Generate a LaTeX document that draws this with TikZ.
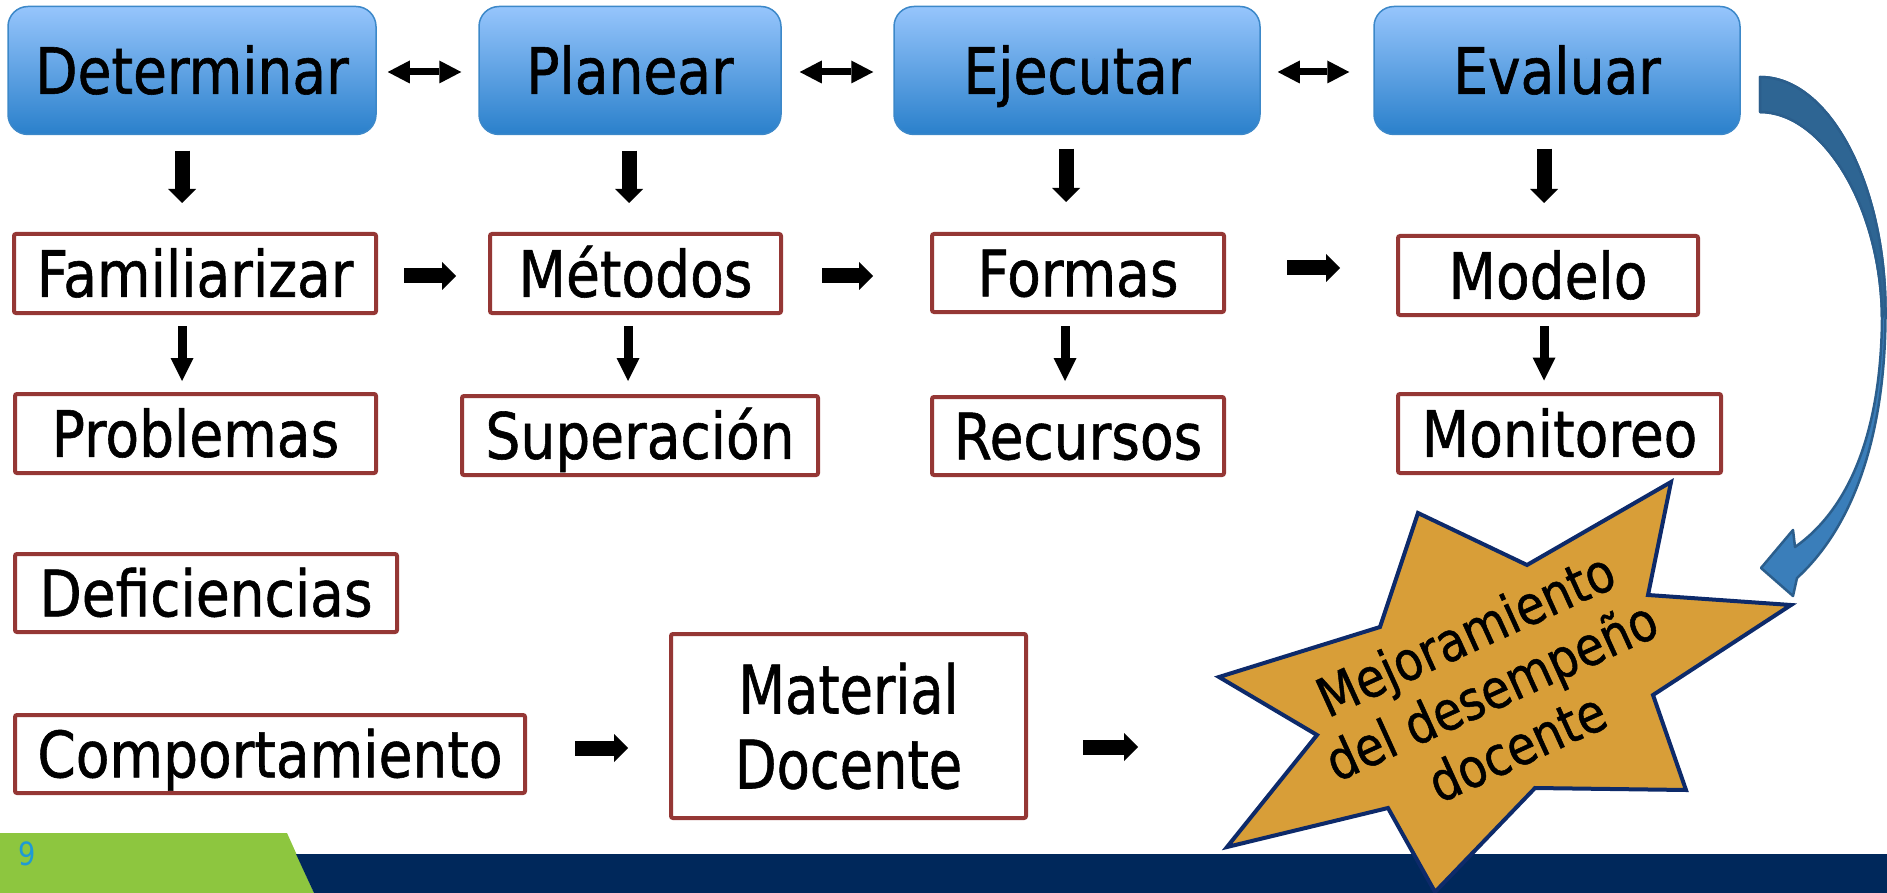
\documentclass[tikz,border=0pt]{standalone}
\usepackage{fontspec}
\setmainfont{DejaVu Sans}[FakeStretch=0.86,FakeBold=0.9]
\newfontfamily\narrowfont{DejaVu Sans}[FakeStretch=0.81,FakeBold=0.9]
\newfontfamily\numfont{DejaVu Sans}[FakeStretch=0.85]
\usetikzlibrary{arrows.meta}
\definecolor{bluetop}{HTML}{96C5FC}
\definecolor{bluebot}{HTML}{2A80CB}
\definecolor{blueborder}{HTML}{3C88C9}
\definecolor{redb}{HTML}{953735}
\definecolor{starfill}{HTML}{D89E38}
\definecolor{stardraw}{HTML}{0D2A6A}
\definecolor{navybar}{HTML}{00285B}
\definecolor{greenbar}{HTML}{8DC63F}
\definecolor{numblue}{HTML}{1E9AD6}
\definecolor{arrdark}{HTML}{2E6593}
\definecolor{arrlight}{HTML}{3A7EBA}
\definecolor{arredge}{HTML}{2B5E8C}
\begin{document}
\begin{tikzpicture}[x=1pt,y=-1pt,
  bluebox/.style={rectangle, rounded corners=20pt, draw=blueborder, line width=1.5pt,
    top color=bluetop, bottom color=bluebot, inner sep=0pt, minimum height=128pt,
    text height=46.7pt, text depth=0pt, font=\fontsize{64}{77}\selectfont},
  redbox/.style={rectangle, rounded corners=2pt, draw=redb, line width=4pt, fill=white,
    inner sep=0pt, minimum height=79pt,
    text height=46.7pt, text depth=0pt, font=\fontsize{64}{77}\selectfont},
  thk/.style={line width=15pt, -{Triangle[length=14pt,width=28pt,line width=0pt]}},
  thn/.style={line width=9pt, -{Triangle[length=23pt,width=23pt,line width=0pt]}},
  dbl/.style={line width=7pt, {Triangle[length=22pt,width=23pt,line width=0pt]}-{Triangle[length=22pt,width=23pt,line width=0pt]}}
]
\useasboundingbox (0,0) rectangle (1887,893);

% bottom bar
\fill[greenbar] (0,833) -- (287,833) -- (314,893) -- (0,893) -- cycle;
\fill[navybar] (296,854) -- (1887,854) -- (1887,893) -- (314,893) -- cycle;
\node[font=\numfont\fontsize{32}{32}\selectfont, text=numblue, inner sep=0pt] (num) at (27.5,854) {9};

% top row
\node[bluebox, minimum width=368pt] (det) at (192,70.5) {Determinar};
\node[bluebox, minimum width=302pt] (pla) at (630,70.5) {Planear};
\node[bluebox, minimum width=366pt] (eje) at (1077,70.5) {Ejecutar};
\node[bluebox, minimum width=366pt] (eva) at (1557,70.5) {Evaluar};

% second row
\node[redbox, minimum width=362pt] (fam) at (195,273.5) {Familiarizar};
\node[redbox, minimum width=291pt] (met) at (635.5,273.5) {Métodos};
\node[redbox, minimum width=292pt, minimum height=78pt] (for) at (1078,273) {Formas};
\node[redbox, minimum width=300pt] (mod) at (1548,275.5) {Modelo};

% third row
\node[redbox, minimum width=361pt] (pro) at (195.5,433.5) {Problemas};
\node[redbox, minimum width=356pt] (sup) at (640,435.5) {Superación};
\node[redbox, minimum width=292pt, minimum height=78pt] (rec) at (1078,436) {Recursos};
\node[redbox, minimum width=323pt] (mon) at (1559.5,433.5) {Monitoreo};

% lower left
\node[redbox, minimum width=382pt, minimum height=78pt] (def) at (206,593) {Deficiencias};
\node[redbox, minimum width=510pt, minimum height=78pt] (com) at (270,754) {Comportamiento};
\node[rectangle, rounded corners=2pt, draw=redb, line width=4pt, fill=white, inner sep=0pt,
  minimum width=355pt, minimum height=184pt, align=center,
  font=\narrowfont\fontsize{67}{75}\selectfont] (mat) at (848.5,726) {Material\\Docente};

% double arrows
\draw[dbl] ([xshift=11pt,yshift=-1.5pt]det.east) -- ([xshift=-17pt,yshift=-1.5pt]pla.west);
\draw[dbl] ([xshift=18pt,yshift=-1.5pt]pla.east) -- ([xshift=-20pt,yshift=-1.5pt]eje.west);
\draw[dbl] ([xshift=17pt,yshift=-1.5pt]eje.east) -- ([xshift=-24pt,yshift=-1.5pt]eva.west);

% thick down arrows
\draw[thk] ([xshift=-10pt,yshift=-15.5pt]det.south) -- ([xshift=-13pt,yshift=29pt]fam.north);
\draw[thk] ([xshift=-1pt,yshift=-15.5pt]pla.south) -- ([xshift=-6.5pt,yshift=29pt]met.north);
\draw[thk] ([xshift=-11pt,yshift=-13.5pt]eje.south) -- ([xshift=-12pt,yshift=30pt]for.north);
\draw[thk] ([xshift=-13pt,yshift=-13.5pt]eva.south) -- ([xshift=-4pt,yshift=31pt]mod.north);

% thin down arrows
\draw[thn] ([xshift=-13pt,yshift=-11pt]fam.south) -- ([xshift=-13.5pt,yshift=11pt]pro.north);
\draw[thn] ([xshift=-7.5pt,yshift=-11pt]met.south) -- ([xshift=-12pt,yshift=13pt]sup.north);
\draw[thn] ([xshift=-13pt,yshift=-12pt]for.south) -- ([xshift=-13pt,yshift=14pt]rec.north);
\draw[thn] ([xshift=-4pt,yshift=-9pt]mod.south) -- ([xshift=-15.5pt,yshift=11.5pt]mon.north);

% right arrows
\draw[thk] ([xshift=26pt,yshift=-2.5pt]fam.east) -- ([xshift=-32pt,yshift=-2.5pt]met.west);
\draw[thk] ([xshift=39pt,yshift=-2.5pt]met.east) -- ([xshift=-57pt,yshift=-3pt]for.west);
\draw[thk] ([xshift=61pt,yshift=5pt]for.east) -- ([xshift=-56pt,yshift=7.5pt]mod.west);
\draw[thk] ([xshift=48pt,yshift=6pt]com.east) -- ([xshift=-41pt,yshift=-22pt]mat.west);
\coordinate (starin) at (1138,747);
\draw[thk] ([xshift=55pt,yshift=-21pt]mat.east) -- (starin);

% curved arrow
\filldraw[fill=arrlight, draw=arredge, line width=2.5pt, line join=round]
  (1760,77) .. controls (1830,77) and (1885,185) .. (1885.5,310)
  .. controls (1886,425) and (1858,522) .. (1797,578)
  -- (1793,596) -- (1761,568) -- (1793,530) -- (1795,547)
  .. controls (1845,512) and (1881,440) .. (1882,318)
  .. controls (1881,205) and (1822,112) .. (1760,112) -- cycle;
\filldraw[fill=arrdark, draw=arredge, line width=2.5pt, line join=round]
  (1760,77) .. controls (1830,77) and (1885,185) .. (1885.5,310)
  -- (1882,318) .. controls (1881,205) and (1822,112) .. (1760,112) -- cycle;

% star
\filldraw[fill=starfill, draw=stardraw, line width=4pt, line join=miter]
  (1418,513) -- (1527,565) -- (1671,482) -- (1648,595) -- (1791,605) -- (1653,695)
  -- (1686,790) -- (1535,788) -- (1435,892) -- (1388,808) -- (1227,847) -- (1317,735)
  -- (1219,677) -- (1380,627) -- cycle;
\node[rotate=24.5, align=center, inner sep=0pt, font=\fontsize{54}{62}\selectfont] (mej) at (1491,690)
  {Mejoramiento\\del desempeño\\docente};
\end{tikzpicture}
\end{document}
